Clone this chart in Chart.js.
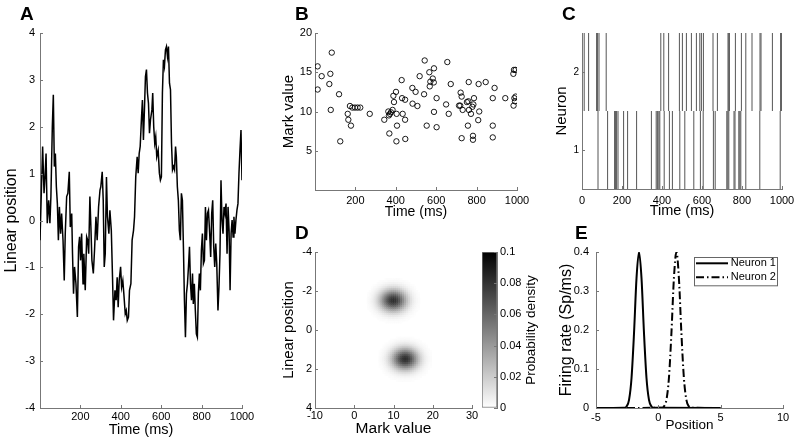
<!DOCTYPE html>
<html><head><meta charset="utf-8">
<script src="https://cdn.jsdelivr.net/npm/chart.js@4.4.0/dist/chart.umd.min.js"></script>
<style>
body{margin:0;background:#fff;}
#fig{position:relative;width:800px;height:444px;overflow:hidden;background:#fff;}
canvas{position:absolute;}
.lbl{position:absolute;font:bold 19px 'Liberation Sans',Arial,sans-serif;color:#000;line-height:1;}
</style></head><body>
<div id="fig">
<canvas id="cA"></canvas><canvas id="cB"></canvas><canvas id="cC"></canvas>
<canvas id="cD"></canvas><canvas id="cCb"></canvas><canvas id="cE"></canvas>
<div class="lbl" style="left:20px;top:4px">A</div>
<div class="lbl" style="left:295px;top:4px">B</div>
<div class="lbl" style="left:562px;top:4px">C</div>
<div class="lbl" style="left:295px;top:223px">D</div>
<div class="lbl" style="left:575px;top:223px">E</div>
</div>
<script>
// ---------- Panel A: linear position vs time ----------
const aTime = [0,13,20,25,30,36,43,49,54,61,66,71,76,81,86,91,96,102,107,114,120,125,132,138,145,150,157,161,166,171,178,185,191,196,201,206,213,217,224,231,236,241,247,252,257,264,270,277,283,290,297,301,308,313,318,323,329,334,341,346,353,359,364,371,377,382,387,392,399,404,410,415,422,427,432,438,443,450,456,463,468,474,481,486,491,496,502,507,512,517,522,527,532,537,542,547,554,558,563,568,573,578,585,591,596,601,606,611,616,621,626,631,636,641,646,651,656,661,666,671,675,680,685,690,695,700,705,710,715,720,725,730,735,740,745,750,755,759,764,769,774,779,784,789,794,799,804,809,814,819,824,829,834,840,845,850,855,860,865,870,875,881,886,891,896,901,906,911,916,921,926,931,936,941,946,951,956,960,965,970,975,980,985,990,995,1000];
const aPos = [-0.42,1.58,0.58,0.93,1.43,-0.06,0.43,-0.06,0.51,2.00,2.68,1.15,1.43,0.72,0.36,-0.42,0.29,-0.28,0.15,-0.42,-1.28,-0.28,0.51,0.58,1.04,-0.14,0.15,-0.71,-1.56,-0.99,-1.35,-2.06,-0.56,-0.35,-0.85,-0.28,-1.35,-0.71,-1.49,-0.35,-0.42,-0.71,0.51,-0.14,-0.85,-1.13,-0.63,0.08,-0.42,0.29,0.65,0.72,1.04,0.43,-0.99,-0.71,0.93,0.08,-0.28,0.22,-0.21,-1.21,-2.13,-1.49,-1.70,-1.21,-1.85,-1.28,-0.99,-1.42,-1.28,-1.56,-1.99,-1.92,-2.13,-2.06,-1.49,-1.35,-0.42,-0.21,0.08,0.93,1.36,1.01,1.43,1.58,2.15,2.57,1.72,2.36,3.07,3.22,2.72,2.50,1.86,2.15,2.36,2.72,2.00,1.65,1.79,1.36,1.50,1.01,0.86,0.93,2.72,3.43,3.29,3.64,3.71,3.50,3.71,2.93,2.79,1.65,1.08,1.15,1.08,1.58,1.36,0.72,0.43,-0.21,-0.42,0.58,0.43,-0.56,-1.70,-2.49,-1.56,-1.35,-0.99,-0.56,-1.35,-1.70,-1.13,-1.78,-1.35,-1.92,-2.42,-2.49,-1.56,-1.13,-1.49,-0.63,-0.28,-0.92,-0.85,0.29,-0.42,0.15,0.22,-0.28,-0.78,0.15,0.43,-0.56,-0.99,-0.49,-0.92,-1.92,-1.42,-0.71,0.86,0.01,-0.28,0.29,0.15,0.36,-0.71,0.29,-0.21,-1.49,-0.28,0.01,-0.35,0.08,-0.28,0.01,0.22,0.36,1.01,1.50,1.93,0.86];
const aXTicks = [200,400,600,800,1000];
const aYTicks = [-4,-3,-2,-1,0,1,2,3,4];

// ---------- Panel B: mark values of spikes ----------
const bTime = [13,13,33,71,76,83,78,119,125,162,165,173,178,185,198,211,224,271,343,363,366,368,371,376,384,388,391,401,404,406,403,429,431,434,446,446,447,482,483,498,507,518,540,543,553,566,568,571,583,588,589,589,602,602,649,655,662,672,713,719,721,726,726,731,752,759,761,757,762,772,779,782,782,784,787,808,810,813,845,880,880,880,889,942,982,985,993,987,993,983,990];
const bMark = [15.75,12.8,14.5,13.5,14.8,17.5,10.2,12.2,6.2,9.7,8.95,10.7,8.2,10.5,10.5,10.5,10.5,9.7,8.95,10.0,9.5,7.2,9.7,9.9,10.2,12.0,11.2,12.5,9.7,8.2,6.2,14.0,11.7,9.7,11.5,8.95,6.5,13.0,11.0,12.5,10.7,14.5,12.2,16.5,8.2,15.0,13.2,13.8,14.2,13.7,15.5,9.95,11.7,8.0,10.9,16.3,9.7,13.5,10.75,10.75,12.4,11.9,6.6,10.2,11.2,11.3,13.75,8.2,10.2,9.7,10.6,6.9,6.4,10.9,11.7,8.9,13.5,10.0,13.75,11.7,8.2,6.7,13.0,11.7,14.8,15.3,15.3,11.7,11.9,10.75,11.3];
const bXTicks = [200,400,600,800,1000];
const bYTicks = [5,10,15,20];

// ---------- Panel C: spike rasters ----------
const cNeuron1 = [80,128,163,168,173,180,208,228,273,347,371,377,384,389,411,437,452,489,514,559,592,606,657,666,724,729,734,760,765,784,789,794,819,889,991];
const cNeuron2 = [11,33,73,78,85,121,394,409,433,487,502,522,547,572,589,597,607,655,677,730,734,737,767,797,819,850,890,895,952,993,998];
const cXTicks = [0,200,400,600,800,1000];
const cYTicks = [1,2];

// ---------- Panel D: joint mark / position density (two blobs) ----------
const dBlobMark = [10, 13];
const dBlobPos = [-1.5, 1.5];
const dBlobPeak = [0.082, 0.082];
const dBlobSdMark = [2.3, 2.3];
const dBlobSdPos = [0.38, 0.38];
const dXTicks = [-10,0,10,20,30];
const dYTicks = [-4,-2,0,2,4];
const cbTicks = [0,0.02,0.04,0.06,0.08,0.1];

// ---------- Panel E: place fields ----------
const e1Pos = [-5,-2.75,-2.55,-2.35,-2.15,-1.95,-1.75,-1.55,-1.35,-1.15,-0.95,-0.75,-0.55,-0.35,5];
const e1Rate = [0,0.0006,0.004,0.021,0.077,0.192,0.333,0.4,0.333,0.192,0.077,0.021,0.004,0.0006,0];
const e2Pos = [-5,0.25,0.45,0.65,0.85,1.05,1.25,1.45,1.65,1.85,2.05,2.25,2.45,2.65,5];
const e2Rate = [0,0.0006,0.004,0.021,0.077,0.192,0.333,0.4,0.333,0.192,0.077,0.021,0.004,0.0006,0];
const eXTicks = [-5,0,5,10];
const eYTicks = [0,0.1,0.2,0.3,0.4];

// ================= rendering =================
const FONT = "'Liberation Sans', Arial, Helvetica, sans-serif";
Chart.defaults.font.family = FONT;
Chart.defaults.color = '#000';
Chart.defaults.animation = false;
Chart.defaults.events = [];
Chart.defaults.plugins.legend.display = false;
Chart.defaults.plugins.tooltip.enabled = false;

const inTicks = {
  id: 'inTicks',
  afterDatasetsDraw(chart) {
    const ctx = chart.ctx;
    ctx.save(); ctx.strokeStyle = '#777'; ctx.lineWidth = 1;
    for (const id of Object.keys(chart.scales)) {
      const s = chart.scales[id];
      if (!s.options.display || s.type === 'category') continue;
      ctx.beginPath();
      for (const t of s.ticks) {
        const p = Math.round(s.getPixelForValue(t.value)) + 0.5;
        if (s.isHorizontal()) {
          ctx.moveTo(p, s.top); ctx.lineTo(p, s.top - 3);
        } else if (s.position === 'left') {
          ctx.moveTo(s.right, p); ctx.lineTo(s.right + 3, p);
        } else {
          ctx.moveTo(s.left, p); ctx.lineTo(s.left - 3, p);
        }
      }
      ctx.stroke();
    }
    ctx.restore();
  }
};

function axis(o) {
  return {
    type: 'linear', position: o.pos, min: o.min, max: o.max, reverse: !!o.reverse,
    afterBuildTicks: s => { s.ticks = o.ticks.map(v => ({value: v})); },
    afterFit: s => { if (o.pos === 'bottom') s.height = o.size; else s.width = o.size; },
    ticks: {padding: o.tickPad, font: {size: o.tickSize || 11}, color: '#000', autoSkip: false,
            maxRotation: 0, minRotation: 0, callback: v => String(v)},
    grid: {display: true, drawOnChartArea: false, drawTicks: false},
    border: {display: true, color: '#777', width: 1},
    title: o.title ? {display: true, text: o.title, color: '#000', font: {size: o.titleSize, lineHeight: 1.2}, padding: o.titlePad} : {display: false}
  };
}

function setup(id, rect) {
  const cv = document.getElementById(id);
  cv.width = rect.w; cv.height = rect.h;
  Object.assign(cv.style, {left: rect.x + 'px', top: rect.y + 'px', width: rect.w + 'px', height: rect.h + 'px'});
  return cv;
}

// generic panel with left y and bottom x
function panel(id, rect, area, datasets, xo, yo, plugins) {
  const cv = setup(id, rect);
  const xlh = xo.titleSize * 1.2, ylh = yo.titleSize * 1.2;
  xo.pos = 'bottom'; xo.size = rect.y + rect.h - area.y2;
  xo.titlePad = {top: 0, bottom: rect.y + rect.h - xlh / 2 - xo.titleC};
  yo.pos = 'left'; yo.size = area.x1 - rect.x;
  yo.titlePad = {top: yo.titleC - rect.x - ylh / 2, bottom: 0};
  return new Chart(cv, {
    type: 'scatter',
    data: {datasets},
    options: {
      responsive: false,
      layout: {padding: {top: area.y1 - rect.y, right: rect.x + rect.w - area.x2, left: 0, bottom: 0}},
      scales: {x: axis(xo), y: axis(yo)}
    },
    plugins: [inTicks].concat(plugins || [])
  });
}

// ---- A
panel('cA', {x: 0, y: 0, w: 262, h: 444}, {x1: 40, y1: 33, x2: 242, y2: 408},
  [{data: aTime.map((t, i) => ({x: t, y: aPos[i]})), showLine: true, borderColor: '#000',
    borderWidth: 1.5, pointRadius: 0, tension: 0}],
  {min: 0, max: 1000, ticks: aXTicks, tickPad: 2, title: 'Time (ms)', titleSize: 14.5, titleC: 430},
  {min: -4, max: 4, ticks: aYTicks, tickPad: 5, title: 'Linear position', titleSize: 16, titleC: 12});

// ---- B
panel('cB', {x: 262, y: 0, w: 278, h: 222}, {x1: 315, y1: 33, x2: 517, y2: 190},
  [{data: bTime.map((t, i) => ({x: t, y: bMark[i]})), pointStyle: 'circle', pointRadius: 2.7,
    borderColor: '#000', borderWidth: 0.9, backgroundColor: 'rgba(0,0,0,0)'}],
  {min: 0, max: 1000, ticks: bXTicks, tickPad: 4, title: 'Time (ms)', titleSize: 14, titleC: 211.7},
  {min: 0, max: 20, ticks: bYTicks, tickPad: 3, title: 'Mark value', titleSize: 15, titleC: 289});

// ---- C
function rasterData(times, n) {
  const pts = [];
  for (const t of times) { pts.push({x: t, y: n - 0.5}, {x: t, y: n + 0.5}, {x: t, y: null}); }
  return pts;
}
panel('cC', {x: 540, y: 0, w: 260, h: 222}, {x1: 582, y1: 33, x2: 782, y2: 189},
  [{data: rasterData(cNeuron1, 1), showLine: true, spanGaps: false, borderColor: '#555', borderWidth: 1, pointRadius: 0},
   {data: rasterData(cNeuron2, 2), showLine: true, spanGaps: false, borderColor: '#555', borderWidth: 1, pointRadius: 0}],
  {min: 0, max: 1000, ticks: cXTicks, tickPad: 5, title: 'Time (ms)', titleSize: 14.5, titleC: 211},
  {min: 0.5, max: 2.5, ticks: cYTicks, tickPad: 3, tickSize: 10, title: 'Neuron', titleSize: 15, titleC: 562});

// ---- D heatmap
const heat = [];
for (let i = 0; i <= 80; i++) {
  const m = -10 + i * 0.5;
  for (let j = 0; j <= 80; j++) {
    const p = -4 + j * 0.1;
    let v = 0;
    for (let k = 0; k < dBlobMark.length; k++) {
      const dm = (m - dBlobMark[k]) / dBlobSdMark[k], dp = (p - dBlobPos[k]) / dBlobSdPos[k];
      v += dBlobPeak[k] * Math.exp(-0.5 * (dm * dm + dp * dp));
    }
    if (v > 0.0008) heat.push({x: m, y: p, v});
  }
}
function grayOf(v) { const g = Math.round(255 * (1 - Math.min(v, 0.1) / 0.1)); return `rgb(${g},${g},${g})`; }
panel('cD', {x: 262, y: 222, w: 240, h: 222}, {x1: 315, y1: 252, x2: 472, y2: 408},
  [{data: heat, pointStyle: 'rect', pointRadius: 1.75, borderWidth: 0,
    backgroundColor: c => grayOf(c.raw ? c.raw.v : 0)}],
  {min: -10, max: 30, ticks: dXTicks, tickPad: 1, title: 'Mark value', titleSize: 15.5, titleC: 428.5},
  {min: -4, max: 4, reverse: true, ticks: dYTicks, tickPad: 3, title: 'Linear position', titleSize: 15, titleC: 289});

// ---- colorbar
(function () {
  const rect = {x: 472, y: 222, w: 68, h: 222}, area = {x1: 482, y1: 252, x2: 497, y2: 408};
  const cv = setup('cCb', rect);
  const cbTitle = {
    id: 'cbTitle',
    afterDraw(chart) {
      const ctx = chart.ctx; ctx.save();
      ctx.translate(531.7 - rect.x, 330 - rect.y); ctx.rotate(-Math.PI / 2);
      ctx.font = "13.5px " + FONT; ctx.fillStyle = '#000'; ctx.textAlign = 'center'; ctx.textBaseline = 'middle';
      ctx.fillText('Probability density', 0, 0); ctx.restore();
    }
  };
  const yo = {pos: 'right', min: 0, max: 0.1, ticks: cbTicks, tickPad: 3, size: rect.x + rect.w - area.x2};
  new Chart(cv, {
    type: 'bar',
    data: {labels: [''], datasets: [{data: [[0, 0.1]], barPercentage: 1, categoryPercentage: 1,
      borderColor: '#777', borderWidth: 1, borderSkipped: false,
      backgroundColor: c => {
        const a = c.chart.chartArea; if (!a) return '#888';
        const g = c.chart.ctx.createLinearGradient(0, a.bottom, 0, a.top);
        g.addColorStop(0, '#ffffff'); g.addColorStop(1, '#000000'); return g;
      }}]},
    options: {
      responsive: false,
      layout: {padding: {top: area.y1 - rect.y, left: area.x1 - rect.x, right: 0, bottom: rect.y + rect.h - area.y2}},
      scales: {x: {type: 'category', display: false}, y: axis(yo)}
    },
    plugins: [inTicks, cbTitle]
  });
})();

// ---- E
const eLegend = {
  id: 'eLegend',
  afterDraw(chart) {
    const ctx = chart.ctx, a = chart.chartArea;
    const x0 = a.right - 89, y0 = a.top + 4.7, w = 83, h = 28.3;
    ctx.save();
    ctx.fillStyle = '#fff'; ctx.fillRect(x0, y0, w, h);
    ctx.strokeStyle = '#666'; ctx.lineWidth = 1; ctx.strokeRect(Math.round(x0) + 0.5, Math.round(y0) + 0.5, w, h);
    chart.data.datasets.forEach((ds, i) => {
      const y = y0 + 6.6 + i * 14;
      ctx.strokeStyle = ds.borderColor; ctx.lineWidth = ds.borderWidth; ctx.setLineDash(ds.borderDash || []);
      ctx.beginPath(); ctx.moveTo(x0 + 2, y); ctx.lineTo(x0 + 34, y); ctx.stroke();
      ctx.setLineDash([]);
      ctx.fillStyle = '#000'; ctx.font = "11px " + FONT; ctx.textBaseline = 'middle'; ctx.textAlign = 'left';
      ctx.fillText(ds.label, x0 + 36.7, y);
    });
    ctx.restore();
  }
};
panel('cE', {x: 540, y: 222, w: 260, h: 222}, {x1: 596, y1: 252, x2: 783, y2: 408},
  [{label: 'Neuron 1', data: e1Pos.map((x, i) => ({x, y: e1Rate[i]})), showLine: true, borderColor: '#000',
    borderWidth: 2, pointRadius: 0, cubicInterpolationMode: 'monotone'},
   {label: 'Neuron 2', data: e2Pos.map((x, i) => ({x, y: e2Rate[i]})), showLine: true, borderColor: '#000',
    borderWidth: 2, borderDash: [8, 3, 1.5, 3], pointRadius: 0, cubicInterpolationMode: 'monotone'}],
  {min: -5, max: 10, ticks: eXTicks, tickPad: 3.5, title: 'Position', titleSize: 13.5, titleC: 425.7},
  {min: 0, max: 0.4, ticks: eYTicks, tickPad: 7, title: 'Firing rate (Sp/ms)', titleSize: 16, titleC: 566.7},
  [eLegend]);
</script>
</body></html>
